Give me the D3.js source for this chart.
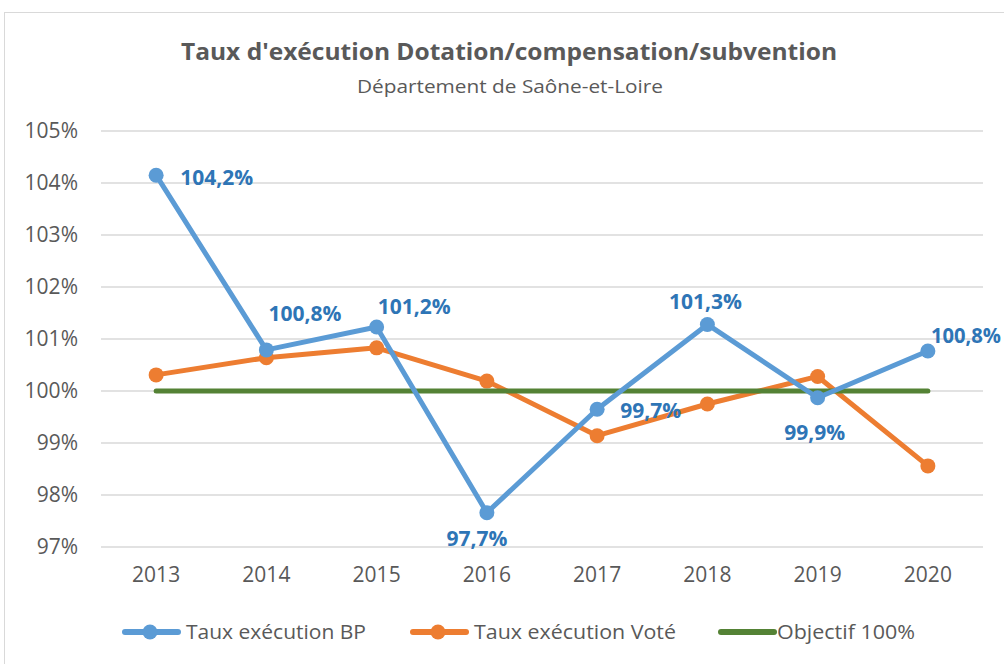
<!DOCTYPE html>
<meta charset="utf-8">
<script src="https://d3js.org/d3.v7.min.js"></script>
<style type="text/css">
  body { margin: 0; background: #fff; }
  svg text { font-family: "Open Sans", sans-serif; }
</style>
<body>
</body>
<script>

// data
var years = ["2013", "2014", "2015", "2016", "2017", "2018", "2019", "2020"];
var tauxBP = [104.15, 100.79, 101.23, 97.66, 99.65, 101.28, 99.87, 100.77];
var tauxVote = [100.31, 100.64, 100.83, 100.19, 99.14, 99.75, 100.28, 98.56];
var objectif = [100, 100, 100, 100, 100, 100, 100, 100];
var bpLabels = ["104,2%", "100,8%", "101,2%", "97,7%", "99,7%", "101,3%", "99,9%", "100,8%"];
var yTicks = [97, 98, 99, 100, 101, 102, 103, 104, 105];

// label placement relative to point: dx, dy, anchor
var labelPlace = [
  [24, 2, "start"], [2, -36, "start"], [1, -20, "start"], [-10, 26, "middle"],
  [23, 1, "start"], [-2, -23, "middle"], [-3, 35, "middle"], [3, -15, "start"]
];

var W = 1004, H = 664;
var margin = {left: 101, right: 21, top: 131, bottom: 117};
var width = W - margin.left - margin.right;
var height = H - margin.top - margin.bottom;

var svg = d3.select("body").append("svg")
  .attr("width", W)
  .attr("height", H);

// chart frame
svg.append("rect")
  .attr("x", 4.5).attr("y", 12.5)
  .attr("width", 1010).attr("height", 700)
  .style("fill", "#fff")
  .style("stroke", "#d9d9d9");

svg.append("text")
  .attr("x", 509).attr("y", 60)
  .attr("text-anchor", "middle")
  .style("font-size", "23px")
  .style("font-weight", "bold")
  .style("fill", "#595959")
  .attr("textLength", 656)
  .attr("lengthAdjust", "spacingAndGlyphs")
  .text("Taux d'exécution Dotation/compensation/subvention");

svg.append("text")
  .attr("x", 510).attr("y", 93)
  .attr("text-anchor", "middle")
  .style("font-size", "19px")
  .style("fill", "#595959")
  .attr("textLength", 306)
  .attr("lengthAdjust", "spacingAndGlyphs")
  .text("Département de Saône-et-Loire");

var g = svg.append("g")
  .attr("transform", `translate(${margin.left},${margin.top})`);

var xScale = d3.scaleBand()
  .domain(years)
  .range([0, width]);
var yScale = d3.scaleLinear()
  .domain([97, 105])
  .range([height, 0]);

var xc = d => xScale(d) + xScale.bandwidth() / 2;

// gridlines
g.selectAll(".grid")
  .data(yTicks)
  .enter().append("line")
  .attr("x1", 0).attr("x2", width)
  .attr("y1", d => yScale(d)).attr("y2", d => yScale(d))
  .style("stroke", "#d9d9d9")
  .style("stroke-width", 1.3);

// y axis
var yAxis = d3.axisLeft(yScale)
  .tickValues(yTicks)
  .tickSize(0)
  .tickPadding(23)
  .tickFormat(d => d + "%");
var yAxisGroup = g.append("g").attr("class", "y axis").call(yAxis);
yAxisGroup.select(".domain").remove();
yAxisGroup.selectAll("text")
  .style("font-size", "21px")
  .style("fill", "#595959")
  .style("font-family", "'Open Sans', sans-serif");

// x axis
var xAxis = d3.axisBottom(xScale).tickSize(0).tickPadding(20);
var xAxisGroup = g.append("g")
  .attr("class", "x axis")
  .attr("transform", `translate(0,${height})`)
  .call(xAxis);
xAxisGroup.select(".domain").remove();
xAxisGroup.selectAll("text")
  .style("font-size", "21px")
  .style("fill", "#595959")
  .style("font-family", "'Open Sans', sans-serif");

var line = d3.line()
  .x((d, i) => xc(years[i]))
  .y(d => yScale(d));

var series = [
  {name: "Taux exécution BP", values: tauxBP, color: "#5b9bd5", marker: true},
  {name: "Taux exécution Voté", values: tauxVote, color: "#ed7d31", marker: true},
  {name: "Objectif 100%", values: objectif, color: "#548235", marker: false}
];

// draw order: Voté, Objectif, then BP on top
[series[1], series[2], series[0]].forEach(function(s) {
  g.append("path")
    .datum(s.values)
    .attr("d", line)
    .style("fill", "none")
    .style("stroke", s.color)
    .style("stroke-width", 5)
    .style("stroke-linejoin", "round")
    .style("stroke-linecap", "round");
  if (s.marker) {
    g.selectAll(null)
      .data(s.values)
      .enter().append("circle")
      .attr("cx", (d, i) => xc(years[i]))
      .attr("cy", d => yScale(d))
      .attr("r", 7.5)
      .style("fill", s.color);
  }
});

// data labels
g.selectAll(".lbl")
  .data(tauxBP)
  .enter().append("text")
  .attr("class", "lbl")
  .attr("x", (d, i) => xc(years[i]) + labelPlace[i][0])
  .attr("y", (d, i) => yScale(d) + labelPlace[i][1])
  .attr("dy", "0.35em")
  .attr("text-anchor", (d, i) => labelPlace[i][2])
  .style("font-size", "21px")
  .style("font-weight", "bold")
  .style("fill", "#2e75b6")
  .attr("textLength", (d, i) => i == 7 ? 70 : null)
  .attr("lengthAdjust", "spacingAndGlyphs")
  .text((d, i) => bpLabels[i]);

// legend
var legendX = [122, 410, 718];
var legendW = [180, 202, 138];
var leg = svg.append("g").attr("transform", "translate(0,632)");
series.forEach(function(s, i) {
  var lg = leg.append("g").attr("transform", `translate(${legendX[i]},0)`);
  lg.append("line")
    .attr("x1", 3).attr("x2", 56)
    .style("stroke", s.color)
    .style("stroke-width", 6)
    .style("stroke-linecap", "round");
  if (s.marker) {
    lg.append("circle").attr("cx", 28).attr("r", 7.5).style("fill", s.color);
  }
  lg.append("text")
    .attr("x", 64 - (i == 2 ? 5 : 0))
    .attr("dy", "0.35em")
    .style("font-size", "20px")
    .style("fill", "#595959")
    .attr("textLength", legendW[i])
    .attr("lengthAdjust", "spacingAndGlyphs")
    .text(s.name);
});

</script>
